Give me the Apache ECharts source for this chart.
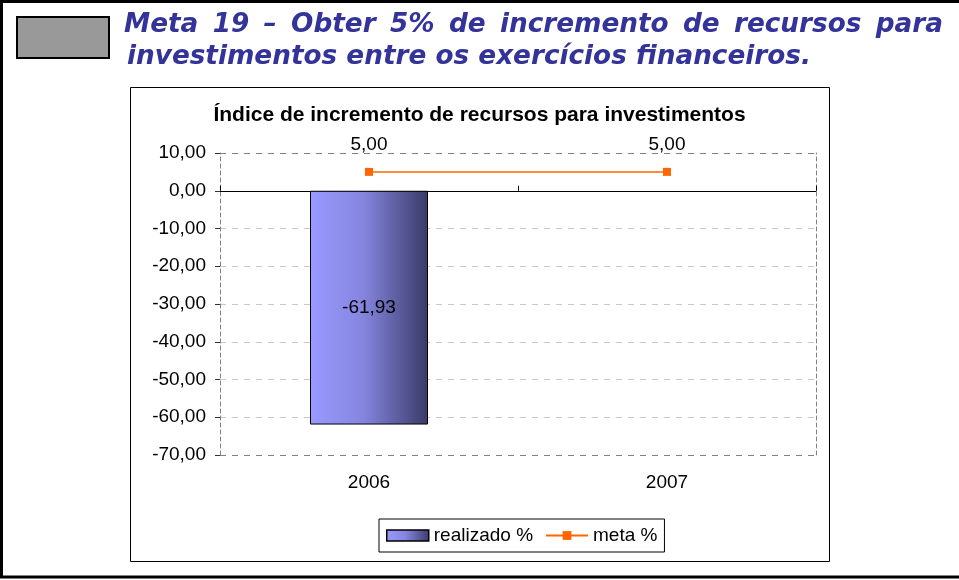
<!DOCTYPE html>
<html>
<head>
<meta charset="utf-8">
<style>
  html, body { margin: 0; padding: 0; background: #fff; }
  #chart { width: 959px; height: 580px; }
</style>
<script src="https://cdn.jsdelivr.net/npm/echarts@6/dist/echarts.min.js"></script>
</head>
<body>
<div id="chart"></div>
<script>
// dados do gráfico
const categories = ['2006', '2007']
const realizado = [-61.93, '-']
const meta = [5.00, 5.00]
const yTicks = [-70, -60, -50, -40, -30, -20, -10, 0, 10]

const heading1 = 'Meta 19 – Obter 5% de incremento de recursos para'
const heading2 = 'investimentos entre os exercícios financeiros.'
const chartTitle = 'Índice de incremento de recursos para investimentos'

const fmt = v => Number(v).toFixed(2).replace('.', ',')

const headFont = 'bold italic 26.3px "DejaVu Sans"'
const blue = '#333399'

// primeira linha justificada: mede as palavras e distribui o espaço
function justifiedWords(text, x0, x1, y) {
  const ctx = document.createElement('canvas').getContext('2d')
  ctx.font = headFont
  const words = text.split(' ')
  const widths = words.map(w => ctx.measureText(w).width)
  const total = widths.reduce((a, b) => a + b, 0)
  const gap = (x1 - x0 - total) / (words.length - 1)
  let x = x0
  return words.map((w, i) => {
    const el = {
      type: 'text', x: x, y: y, z: 10,
      style: { text: w, font: headFont, fill: blue, verticalAlign: 'middle' }
    }
    x += widths[i] + gap
    return el
  })
}

const chart = echarts.init(document.getElementById('chart'))

const barColor = new echarts.graphic.LinearGradient(0, 0, 1, 0, [
  { offset: 0, color: '#9999ff' },
  { offset: 0.45, color: '#8585e0' },
  { offset: 1, color: '#3a3a68' }
])

chart.setOption({
  animation: false,
  textStyle: { fontFamily: '"Liberation Sans", Arial, sans-serif' },
  title: {
    text: chartTitle,
    left: 'center',
    top: 100,
    textStyle: { fontSize: 21, fontWeight: 'bold', color: '#000' }
  },
  graphic: [
    {
      type: 'rect', z: -10,
      shape: { x: 1.5, y: 1.5, width: 980, height: 575.5 },
      style: { fill: '#fff', stroke: '#000', lineWidth: 3 }
    },
    {
      type: 'rect', z: -5,
      shape: { x: 130.5, y: 87.5, width: 699, height: 474 },
      style: { fill: '#fff', stroke: '#000', lineWidth: 1 }
    },
    {
      type: 'rect', z: 5,
      shape: { x: 17, y: 17, width: 92, height: 41 },
      style: { fill: '#999999', stroke: '#000', lineWidth: 2 }
    },
    ...justifiedWords(heading1, 124, 943, 25),
    {
      type: 'text', x: 127, y: 57, z: 10,
      style: { text: heading2, font: headFont, fill: blue, verticalAlign: 'middle' }
    }
  ],
  legend: {
    left: 379,
    top: 519,
    padding: [7, 7, 7, 7],
    itemGap: 12,
    itemWidth: 42,
    itemHeight: 11,
    borderColor: '#000',
    borderWidth: 1,
    backgroundColor: '#fff',
    textStyle: { fontSize: 19, color: '#000' },
    data: [
      { name: 'realizado %', icon: 'rect', itemStyle: { borderWidth: 1.5, borderColor: '#000' } },
      { name: 'meta %' }
    ]
  },
  grid: { left: 220, right: 143, top: 153, bottom: 125 },
  xAxis: [
    {
      type: 'category',
      data: categories,
      position: 'bottom',
      axisLine: { show: false, onZero: false },
      axisTick: { show: false },
      axisLabel: { fontSize: 19, color: '#000', margin: 18 }
    },
    {
      type: 'category',
      data: categories,
      axisLine: { show: true, onZero: true, lineStyle: { color: '#000', width: 1 } },
      axisTick: { show: true, length: 5, lineStyle: { color: '#000' } },
      axisLabel: { show: false }
    }
  ],
  yAxis: [
    {
      type: 'value',
      min: yTicks[0],
      max: yTicks[yTicks.length - 1],
      interval: 10,
      axisLine: { show: true, lineStyle: { color: '#808080', type: [4, 3] } },
      axisTick: { show: true, length: 5, lineStyle: { color: '#333' } },
      axisLabel: { fontSize: 19, color: '#000', margin: 14, formatter: fmt },
      splitLine: {
        show: true,
        lineStyle: {
          color: ['#808080', '#c8c8c8', '#c8c8c8', '#c8c8c8', '#c8c8c8', '#c8c8c8', '#c8c8c8', '#c8c8c8', '#808080'],
          type: [6, 6]
        }
      }
    },
    {
      type: 'value',
      position: 'right',
      min: yTicks[0],
      max: yTicks[yTicks.length - 1],
      interval: 10,
      axisLine: { show: true, lineStyle: { color: '#808080', type: [4, 3] } },
      axisTick: { show: false },
      axisLabel: { show: false },
      splitLine: { show: false }
    }
  ],
  series: [
    {
      name: 'realizado %',
      type: 'bar',
      data: realizado,
      barWidth: 118,
      itemStyle: { color: barColor, borderColor: '#000', borderWidth: 1 },
      label: {
        show: true,
        position: 'inside',
        fontSize: 19,
        color: '#000',
        formatter: p => fmt(p.value)
      }
    },
    {
      name: 'meta %',
      type: 'line',
      data: meta,
      symbol: 'rect',
      symbolSize: 8,
      color: '#ff6600',
      lineStyle: { color: '#ff6600', width: 1.5 },
      itemStyle: { color: '#ff6600' },
      label: {
        show: true,
        position: 'top',
        distance: 14,
        fontSize: 19,
        color: '#000',
        formatter: p => fmt(p.value)
      }
    }
  ]
})
</script>
</body>
</html>
